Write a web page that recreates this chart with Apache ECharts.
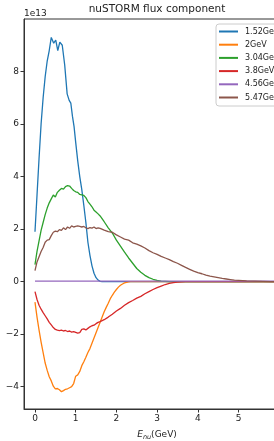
<!DOCTYPE html>
<html lang="en">
<head>
    <meta charset="UTF-8">
    <title>nuSTORM flux component</title>
    <script src="https://cdn.jsdelivr.net/npm/echarts@6/dist/echarts.min.js"></script>
    <style>
        html, body { margin: 0; padding: 0; background: #fff; }
        #chart { width: 274px; height: 441px; }
    </style>
</head>
<body>
    <div id="chart"></div>
    <script>
        // flux values in units of 1e13, energy in GeV
        var names = ['1.52GeV', '2GeV', '3.04GeV', '3.8GeV', '4.56GeV', '5.47GeV'];
        var colors = ['#1f77b4', '#ff7f0e', '#2ca02c', '#d62728', '#9467bd', '#8c564b'];
        var xTicks = [0, 1, 2, 3, 4, 5, 6];
        var yTicks = [-4, -2, 0, 2, 4, 6, 8];

        var flux152 = [[0, 1.9], [0.05, 3.3], [0.1, 4.7], [0.15, 6.0], [0.2, 7.0], [0.25, 7.8], [0.3, 8.4],
            [0.35, 8.8], [0.4, 9.3], [0.46, 9.08], [0.51, 9.2], [0.56, 8.8], [0.61, 9.12], [0.67, 9.0],
            [0.73, 8.25], [0.79, 7.15], [0.84, 6.9], [0.88, 6.8], [0.92, 6.3], [0.96, 5.9], [1.0, 5.3],
            [1.05, 4.6], [1.1, 4.0], [1.15, 3.5], [1.2, 2.9], [1.25, 2.25], [1.3, 1.5], [1.35, 1.0],
            [1.4, 0.6], [1.45, 0.32], [1.5, 0.15], [1.55, 0.06], [1.6, 0.01], [1.65, 0], [6.3, 0]];
        var flux2 = [[0, -0.78], [0.05, -1.35], [0.1, -1.85], [0.15, -2.3], [0.2, -2.7], [0.25, -3.1],
            [0.3, -3.38], [0.35, -3.62], [0.4, -3.78], [0.45, -3.98], [0.5, -4.08], [0.55, -4.07],
            [0.6, -4.12], [0.65, -4.19], [0.7, -4.15], [0.75, -4.1], [0.8, -4.08], [0.85, -4.04],
            [0.9, -4.0], [0.95, -3.88], [1.0, -3.6], [1.05, -3.55], [1.1, -3.42], [1.15, -3.2],
            [1.2, -3.05], [1.25, -2.88], [1.3, -2.7], [1.35, -2.55], [1.4, -2.35], [1.45, -2.15],
            [1.5, -1.95], [1.55, -1.75], [1.6, -1.55], [1.65, -1.35], [1.7, -1.15], [1.75, -0.98],
            [1.8, -0.82], [1.85, -0.65], [1.9, -0.52], [1.95, -0.4], [2.0, -0.3], [2.05, -0.21],
            [2.1, -0.14], [2.15, -0.09], [2.2, -0.05], [2.25, -0.03], [2.3, -0.01], [2.35, 0], [6.3, 0]];
        var flux304 = [[0, 0.65], [0.05, 1.15], [0.1, 1.55], [0.15, 1.95], [0.2, 2.25], [0.25, 2.55],
            [0.3, 2.8], [0.35, 3.0], [0.4, 3.15], [0.45, 3.3], [0.5, 3.22], [0.55, 3.4], [0.6, 3.48],
            [0.65, 3.55], [0.7, 3.52], [0.75, 3.62], [0.8, 3.66], [0.85, 3.64], [0.9, 3.55], [0.95, 3.47],
            [1.0, 3.42], [1.05, 3.4], [1.1, 3.32], [1.15, 3.3], [1.2, 3.28], [1.25, 3.2], [1.3, 3.05],
            [1.35, 2.95], [1.4, 2.85], [1.45, 2.72], [1.5, 2.65], [1.55, 2.58], [1.6, 2.5], [1.7, 2.28],
            [1.8, 2.05], [1.9, 1.85], [2.0, 1.58], [2.1, 1.35], [2.2, 1.12], [2.3, 0.9], [2.4, 0.7],
            [2.5, 0.5], [2.6, 0.36], [2.7, 0.24], [2.8, 0.15], [2.9, 0.09], [3.0, 0.05], [3.1, 0.02],
            [3.2, 0.01], [3.3, 0], [6.3, 0]];
        var flux38 = [[0, -0.38], [0.05, -0.68], [0.1, -0.9], [0.15, -1.05], [0.2, -1.18], [0.25, -1.3],
            [0.3, -1.42], [0.35, -1.55], [0.4, -1.65], [0.45, -1.75], [0.5, -1.82], [0.55, -1.85],
            [0.6, -1.87], [0.65, -1.85], [0.7, -1.88], [0.75, -1.86], [0.8, -1.9], [0.85, -1.88],
            [0.9, -1.92], [0.95, -1.9], [1.0, -1.93], [1.05, -1.96], [1.1, -1.94], [1.15, -1.82],
            [1.2, -1.8], [1.25, -1.84], [1.3, -1.78], [1.35, -1.72], [1.4, -1.68], [1.45, -1.66],
            [1.5, -1.6], [1.55, -1.55], [1.6, -1.52], [1.7, -1.45], [1.8, -1.35], [1.9, -1.24],
            [2.0, -1.12], [2.1, -1.02], [2.2, -0.9], [2.3, -0.8], [2.4, -0.72], [2.5, -0.63],
            [2.6, -0.56], [2.7, -0.46], [2.8, -0.38], [2.9, -0.3], [3.0, -0.23], [3.1, -0.17],
            [3.2, -0.11], [3.3, -0.07], [3.4, -0.04], [3.5, -0.02], [3.6, -0.01], [3.7, 0], [6.3, 0]];
        var flux456 = [[0, 0.02], [6.3, 0.02]];
        var flux547 = [[0, 0.42], [0.05, 0.75], [0.1, 0.95], [0.15, 1.15], [0.2, 1.3], [0.25, 1.5],
            [0.3, 1.58], [0.35, 1.6], [0.4, 1.75], [0.45, 1.88], [0.5, 1.92], [0.55, 1.9], [0.6, 1.98],
            [0.65, 1.95], [0.7, 2.05], [0.75, 1.98], [0.8, 2.08], [0.85, 2.03], [0.9, 2.12], [0.95, 2.08],
            [1.0, 2.1], [1.05, 2.12], [1.1, 2.1], [1.15, 2.08], [1.2, 2.1], [1.25, 2.05], [1.3, 2.02],
            [1.35, 2.06], [1.4, 2.04], [1.45, 2.08], [1.5, 2.02], [1.55, 2.05], [1.6, 2.03], [1.7, 1.96],
            [1.8, 1.9], [1.9, 1.88], [2.0, 1.78], [2.1, 1.7], [2.2, 1.62], [2.3, 1.58], [2.4, 1.48],
            [2.5, 1.43], [2.6, 1.36], [2.7, 1.28], [2.8, 1.18], [2.9, 1.1], [3.0, 1.04], [3.1, 0.96],
            [3.2, 0.9], [3.3, 0.84], [3.4, 0.76], [3.5, 0.7], [3.6, 0.62], [3.7, 0.54], [3.8, 0.47],
            [3.9, 0.4], [4.0, 0.34], [4.1, 0.3], [4.2, 0.25], [4.3, 0.21], [4.4, 0.18], [4.5, 0.15],
            [4.6, 0.12], [4.7, 0.1], [4.8, 0.08], [4.9, 0.06], [5.0, 0.05], [5.2, 0.03], [5.4, 0.02],
            [5.6, 0.01], [5.8, 0], [6.3, 0]];

        var allFlux = [flux152, flux2, flux304, flux38, flux456, flux547];
        var font = 'DejaVu Sans';

        function minus(v) {
            return v < 0 ? '\u2212' + (-v) : String(v);
        }

        var chart = echarts.init(document.getElementById('chart'));

        var option = {
            animation: false,
            textStyle: { fontFamily: font },
            grid: {
                left: 24, top: 19, bottom: 32, width: 266,
                outerBoundsMode: 'none',
                containLabel: false,
                show: true, borderColor: '#333', borderWidth: 1
            },
            graphic: [
                {
                    type: 'text', x: 157, y: 4,
                    style: { text: 'nuSTORM flux component', fontFamily: font, fontSize: 10.5, fill: '#222', align: 'center' }
                },
                {
                    type: 'text', x: 24, y: 9,
                    style: { text: '1e13', fontFamily: font, fontSize: 9, fill: '#222' }
                }
            ],
            legend: {
                orient: 'vertical',
                left: 216, top: 24,
                data: names,
                icon: 'rect',
                itemWidth: 19, itemHeight: 2,
                itemGap: 2.2,
                padding: [2, 40, 3, 3],
                borderColor: '#ccc', borderWidth: 1, borderRadius: 3,
                backgroundColor: 'rgba(255,255,255,0.8)',
                textStyle: { fontFamily: font, fontSize: 8, color: '#222', lineHeight: 11, padding: [0, 0, 0, 2] }
            },
            xAxis: {
                type: 'value',
                min: -0.27, max: 6.265,
                name: '{i|E}{s|nu}{n|(GeV)}',
                nameLocation: 'middle',
                nameGap: 20,
                nameTextStyle: {
                    rich: {
                        i: { fontFamily: font, fontSize: 9, fontStyle: 'italic', color: '#222' },
                        s: { fontFamily: font, fontSize: 6.5, fontStyle: 'italic', color: '#222', padding: [5, 0, 0, 0] },
                        n: { fontFamily: font, fontSize: 9, color: '#222' }
                    }
                },
                splitLine: { show: false },
                axisLine: { onZero: false, lineStyle: { color: '#333', width: 1 } },
                axisTick: { length: 3.5, lineStyle: { color: '#333' }, customValues: xTicks },
                axisLabel: { fontSize: 9, color: '#222', margin: 5, customValues: xTicks }
            },
            yAxis: {
                type: 'value',
                min: -4.85, max: 10.0,
                splitLine: { show: false },
                axisLine: { show: true, onZero: false, lineStyle: { color: '#333', width: 1 } },
                axisTick: { show: true, length: 3.5, lineStyle: { color: '#333' }, customValues: yTicks },
                axisLabel: {
                    fontSize: 9, color: '#222', margin: 5, customValues: yTicks,
                    formatter: minus
                }
            },
            series: names.map(function (n, i) {
                return {
                    name: n,
                    type: 'line',
                    data: allFlux[i],
                    showSymbol: false,
                    symbol: 'none',
                    color: colors[i],
                    lineStyle: { width: 1.3, color: colors[i] },
                    z: 2 + i
                };
            })
        };

        chart.setOption(option);
    </script>
</body>
</html>
